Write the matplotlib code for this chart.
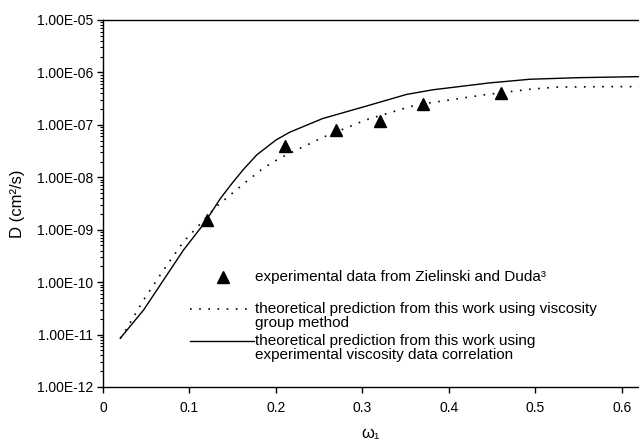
import numpy as np
import matplotlib
matplotlib.use('Agg')
import matplotlib.pyplot as plt
from matplotlib.ticker import FuncFormatter, LogLocator, MultipleLocator

plt.rcParams['font.family'] = ['Liberation Sans', 'DejaVu Sans']

# experimental points (Zielinski and Duda)
exp_w = [0.12, 0.21, 0.27, 0.32, 0.37, 0.46]
exp_d = [1.5e-9, 3.9e-8, 7.9e-8, 1.2e-7, 2.5e-7, 4.0e-7]

# viscosity group method (dotted), log10 of D
grp_w = [0.02, 0.024, 0.047, 0.070, 0.093, 0.108, 0.131, 0.163, 0.185, 0.204,
         0.254, 0.305, 0.362, 0.44, 0.494, 0.525, 0.59, 0.62]
grp_log = [-11.07, -10.98, -10.34, -9.77, -9.23, -8.97, -8.56, -8.12, -7.83,
           -7.64, -7.24, -6.90, -6.62, -6.43, -6.32, -6.28, -6.27, -6.27]

# experimental viscosity data correlation (solid), log10 of D
cor_w = [0.02, 0.047, 0.070, 0.093, 0.117, 0.136, 0.15, 0.163, 0.178, 0.20,
         0.216, 0.254, 0.305, 0.351, 0.382, 0.447, 0.494, 0.55, 0.62]
cor_log = [-11.07, -10.53, -9.96, -9.39, -8.88, -8.40, -8.10, -7.84, -7.57,
           -7.29, -7.14, -6.88, -6.64, -6.42, -6.33, -6.20, -6.13, -6.10, -6.08]

grp_d = [10 ** v for v in grp_log]
cor_d = [10 ** v for v in cor_log]

fig = plt.figure(figsize=(6.39, 4.46), dpi=100)
ax = fig.add_axes([103 / 639, 1 - 387 / 446, 536 / 639, 367 / 446])

dots = (0, (1, 4.5))
ax.plot(cor_w, cor_d, color='black', lw=1.0)
ax.plot(grp_w, grp_d, color='black', lw=1.2, ls=dots)
ax.plot(exp_w, exp_d, ls='none', marker='^', ms=9, color='black')

ax.set_yscale('log')
ax.set_ylim(1e-12, 1e-5)
ax.set_xlim(0, 0.62)
ax.xaxis.set_major_locator(MultipleLocator(0.1))
ax.xaxis.set_major_formatter(FuncFormatter(lambda v, p: f'{v:.1f}' if v else '0'))
ax.yaxis.set_major_locator(LogLocator(base=10, numticks=20))
ax.yaxis.set_minor_locator(LogLocator(base=10, subs=np.arange(2, 10), numticks=20))
ax.yaxis.set_major_formatter(FuncFormatter(lambda v, p: f'{v:.2E}'))
ax.yaxis.set_minor_formatter(FuncFormatter(lambda v, p: ''))

for s in ['left', 'bottom', 'top']:
    ax.spines[s].set_linewidth(1.0)
ax.spines['right'].set_visible(False)
ax.tick_params(axis='both', which='major', direction='out', length=4,
               width=1.0, labelsize=10, pad=3)
ax.tick_params(axis='y', which='minor', direction='out', length=2, width=0.8)
ax.tick_params(axis='x', pad=6)

ax.set_ylabel('D (cm²/s)', fontsize=12, labelpad=9)
ax.set_xlabel('ω₁', fontsize=12, labelpad=8)

# legend, drawn by hand to keep the handles on the first text line
tr = ax.transAxes
fs = 11
ax.plot([0.224], [0.300], transform=tr, ls='none', marker='^', ms=9,
        color='black', clip_on=False)
ax.text(0.284, 0.300, 'experimental data from Zielinski and Duda³', transform=tr,
        va='center', fontsize=fs)
ax.plot([0.162, 0.280], [0.2125, 0.2125], transform=tr, color='black', lw=1.2,
        ls=dots)
ax.text(0.284, 0.2125, 'theoretical prediction from this work using viscosity',
        transform=tr, va='center', fontsize=fs)
ax.text(0.284, 0.174, 'group method', transform=tr, va='center', fontsize=fs)
ax.plot([0.162, 0.282], [0.125, 0.125], transform=tr, color='black', lw=1.0)
ax.text(0.284, 0.125, 'theoretical prediction from this work using',
        transform=tr, va='center', fontsize=fs)
ax.text(0.284, 0.087, 'experimental viscosity data correlation', transform=tr,
        va='center', fontsize=fs)

fig.savefig('out.png', dpi=100)
